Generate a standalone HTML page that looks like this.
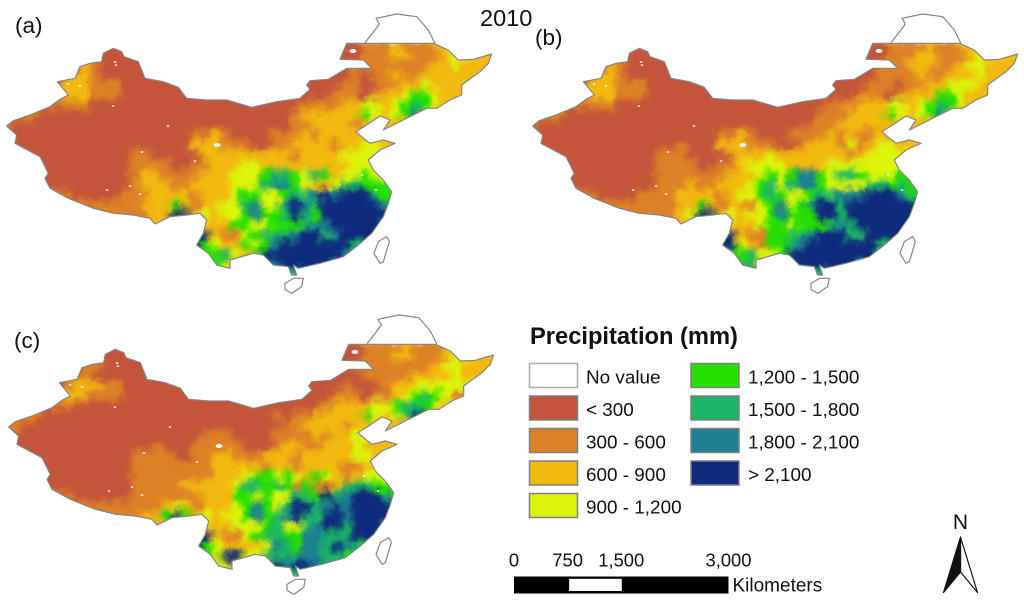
<!DOCTYPE html>
<html lang="en">
<head>
<meta charset="utf-8">
<title>Precipitation maps 2010</title>
<style>
html,body{margin:0;padding:0;background:#fff;}
svg{display:block;filter:blur(.35px);font-family:"Liberation Sans",sans-serif;}
</style>
</head>
<body>
<svg id="figure" xmlns="http://www.w3.org/2000/svg" width="1024" height="601" viewBox="0 0 1024 601">
<defs>
<filter id="soft" filterUnits="userSpaceOnUse" x="-20" y="0" width="560" height="320" color-interpolation-filters="sRGB">
<feGaussianBlur in="SourceGraphic" stdDeviation="3.2" result="blurred"/>
<feTurbulence type="fractalNoise" baseFrequency="0.09" numOctaves="3" seed="4" result="broad"/>
<feDisplacementMap in="blurred" in2="broad" scale="13" xChannelSelector="R" yChannelSelector="G" result="wobbled"/>
<feTurbulence type="fractalNoise" baseFrequency="0.55" numOctaves="1" seed="9" result="fine"/>
<feDisplacementMap in="wobbled" in2="fine" scale="4" xChannelSelector="G" yChannelSelector="R"/>
</filter>
<clipPath id="china-clip"><path transform="scale(.33333)" d="M20,378 40,362 90,345 150,320 180,298 205,285 172,245 225,235 240,200 270,190 305,185 310,160 340,145 365,155 372,170 415,185 435,235 490,245 535,262 560,295 620,300 680,300 755,322 830,305 900,295 930,268 920,255 930,242 985,238 1040,205 1115,205 1090,180 1020,178 1040,130 1300,130 1345,150 1375,180 1420,178 1475,162 1465,190 1440,215 1385,255 1385,285 1350,300 1310,325 1280,325 1240,345 1180,375 1150,390 1170,360 1140,348 1100,375 1068,395 1085,410 1110,430 1150,420 1185,430 1140,450 1105,480 1120,510 1150,540 1175,575 1165,610 1150,650 1115,700 1075,735 1030,770 960,790 895,805 880,795 890,825 875,825 865,800 820,795 790,765 760,760 690,780 690,805 650,795 625,760 590,735 610,700 620,660 600,640 560,645 510,650 465,672 450,655 400,645 340,640 280,625 205,595 150,565 135,535 145,520 120,470 45,430 50,405Z"/></clipPath>
<g id="outlines" fill="none" stroke="#858585" stroke-width="3.6" stroke-linejoin="round">
<path transform="scale(.33333)" d="M20,378 40,362 90,345 150,320 180,298 205,285 172,245 225,235 240,200 270,190 305,185 310,160 340,145 365,155 372,170 415,185 435,235 490,245 535,262 560,295 620,300 680,300 755,322 830,305 900,295 930,268 920,255 930,242 985,238 1040,205 1115,205 1090,180 1020,178 1040,130 1300,130 1345,150 1375,180 1420,178 1475,162 1465,190 1440,215 1385,255 1385,285 1350,300 1310,325 1280,325 1240,345 1180,375 1150,390 1170,360 1140,348 1100,375 1068,395 1085,410 1110,430 1150,420 1185,430 1140,450 1105,480 1120,510 1150,540 1175,575 1165,610 1150,650 1115,700 1075,735 1030,770 960,790 895,805 880,795 890,825 875,825 865,800 820,795 790,765 760,760 690,780 690,805 650,795 625,760 590,735 610,700 620,660 600,640 560,645 510,650 465,672 450,655 400,645 340,640 280,625 205,595 150,565 135,535 145,520 120,470 45,430 50,405Z"/>
<path transform="scale(.33333)" d="M1095,128 1125,90 1138,72 1128,55 1190,42 1250,50 1285,90 1305,130"/>
<path transform="scale(.33333)" d="M1160,710 1168,725 1150,785 1140,790 1122,760 1135,725Z"/>
<path transform="scale(.33333)" d="M880,835 910,835 905,860 875,880 855,868 855,850Z"/>
</g>
</defs>

<g id="panel-a" transform="translate(0,0)"></g>
<g id="panel-b" transform="translate(526,0)"></g>
<g id="panel-c" transform="translate(2,301)"></g>

<text x="480" y="26" font-size="23.5" fill="#111">2010</text>
<text x="15" y="33" font-size="22.5" fill="#111">(a)</text>
<text x="535" y="45" font-size="22.5" fill="#111">(b)</text>
<text x="14" y="348" font-size="22.5" fill="#111">(c)</text>

<text x="530" y="344" font-size="23.7" font-weight="bold" fill="#111">Precipitation (mm)</text>
<g id="legend"></g>

<g id="scale-bar"></g>
<text x="732.5" y="591.5" font-size="19" fill="#111">Kilometers</text>

<g>
<text x="960.5" y="529" font-size="21" text-anchor="middle" fill="#111">N</text>
<path d="M960.5,537 977.5,592.5 960.5,572Z" fill="#fff" stroke="#111" stroke-width="1.2" stroke-linejoin="round"/>
<path d="M960.5,537 943.5,592.5 960.5,572Z" fill="#111" stroke="#111" stroke-width="1.2" stroke-linejoin="round"/>
</g>
</svg>

<script>
// Precipitation class labels and colours, index 0 = no value
const classLabels = ["No value","< 300","300 - 600","600 - 900","900 - 1,200","1,200 - 1,500","1,500 - 1,800","1,800 - 2,100","> 2,100"];
const classColors = ["#ffffff","#c4553a","#dd8126","#f2b90f","#dcf50a","#25e000","#1bb565","#1c8090","#0e2a7c"];
// Scale bar distances (km)
const scaleTicks = [0,750,1500,3000];
// Gridded class codes per panel (one row per 10px band)
const gridA = [
"11111 11111 11111 11111 11111 11111 11111 12223 22233",
"11111 11111 11111 11111 11111 11111 11111 12223 32223 43",
"11111 11132 11111 11111 11111 11111 11111 22222 22233 43",
"11111 11332 11111 11111 11111 11111 11111 21223 22333 3",
"11111 13332 22111 11111 11111 11111 11112 21122 33433 3",
"11111 13332 22111 11111 11111 11111 11122 21233 45543 3",
"11111 22221 11111 11111 11111 11111 22223 34434 56543 3",
"12221 11111 11111 11111 11111 11112 33333 35434 57433 3",
"21111 11111 11111 11111 11111 11112 23333 23333 33333",
"11111 11111 11111 11112 23211 11222 32333 33333 33333",
"11111 11111 11111 11113 33222 11223 33323 34433 33333",
"11111 11111 11122 11111 33333 33332 33334 44444 33333",
"11111 11111 11122 22112 23334 43333 33333 44444 33333",
"11111 11111 11123 32222 33344 45665 46534 45444 33333",
"11111 11111 11123 33223 33344 46775 43346 65555 33333",
"11111 22111 11222 33332 33345 54456 67878 88655 33333",
"11111 22222 22223 33532 33446 74478 76888 88875 33333",
"11111 22222 22222 33883 43445 75568 65888 88885 33333",
"11111 22222 22222 33883 33355 44555 67788 88875 33333",
"11111 22222 22222 88888 83224 56667 88678 88866 33333",
"11111 22222 22222 88888 54335 45788 88888 66666 33333",
"11111 22222 22222 55555 55643 58888 88887 66666 33333",
"11111 22222 22222 55555 55433 36788 88877 66666 33333",
"11111 22222 22222 55555 55555 66666 66666 66666 33333"
];
const gridB = [
"11111 11111 11111 11111 11111 11111 11111 12222 32233",
"11111 11111 11111 11111 11111 11111 11111 12223 32223 43",
"11111 11132 11111 11111 11111 11111 11111 22233 32234 43",
"11111 11332 11111 11111 11111 11111 11111 22223 22333 43",
"11111 13332 22111 11111 11111 11111 11112 22122 33444 3",
"11111 13332 22111 11111 11111 11111 11122 21233 35543 3",
"11111 22221 11111 11111 11111 11111 22233 34434 56543 3",
"12221 11111 11111 11111 11111 11112 22333 35434 57433 3",
"21111 11111 11111 11111 11111 11122 23333 33333 33333",
"11111 11111 11111 11112 23211 12222 32322 33333 33333",
"11111 11111 11111 21113 33222 11233 32423 44333 33333",
"11111 11111 11122 21111 23334 33333 33234 44444 33333",
"11111 11111 11122 22112 23444 43333 44444 44445 33333",
"11111 11111 11122 22222 33345 45775 46654 44554 33333",
"11111 11111 11122 23223 33456 46775 44446 65655 33333",
"11111 22111 12222 33332 34456 54456 67778 88765 33333",
"11111 22222 22222 33532 33245 74578 86888 88885 33333",
"11111 22222 22222 34883 43445 75558 86888 88888 33333",
"11111 22222 22222 34883 33345 54555 67688 88887 33333",
"11111 22222 22222 88888 83225 56678 88668 88866 33333",
"11111 22222 22222 88888 84325 56788 88888 66666 33333",
"11111 22222 22222 55555 55644 58888 88888 66666 33333",
"11111 22222 22222 55555 66633 36888 88877 66666 33333",
"11111 22222 22222 55555 55555 66666 66666 66666 33333"
];
const gridC = [
"11111 11111 11111 11111 11111 11111 11111 12222 32223 3",
"11111 11111 11111 11111 11111 11111 11111 12223 32223 43",
"11111 11122 11111 11111 11111 11111 11111 22222 22234 433",
"11111 11221 11111 11111 11111 11111 11111 12222 23333 43",
"11111 12333 22111 11111 11111 11111 11112 11123 34444 4",
"11111 13322 22111 11111 11111 11111 11122 21223 45654 2",
"11111 22111 11111 11111 11111 11111 11233 33445 66543 3",
"12221 11111 11111 11111 11111 11212 23333 35434 68533 3",
"22111 11111 11111 11111 11111 11122 33332 33333 33333",
"11111 11111 11111 11111 22211 11222 23233 44333 33333",
"11111 11111 11111 21112 22221 11233 22333 43333 33333",
"11111 11111 11122 22112 23322 23332 33333 44333 33333",
"11111 11111 11122 22222 23333 32332 33332 23444 33333",
"11111 11111 11122 22222 23334 55454 35432 34444 33333",
"11111 11111 11122 22233 33346 65652 52236 66555 33333",
"11111 22111 11122 22222 33355 45446 65867 88875 33333",
"11111 22222 22222 23432 33345 75468 86787 88885 33333",
"11111 22222 22223 35853 43445 75678 66887 88888 33333",
"11111 22222 22222 35853 33344 45644 67886 88875 33333",
"11111 22222 22222 88888 83224 56655 77666 88866 33333",
"11111 22222 22222 88888 54333 34765 77687 65555 33333",
"11111 22222 22222 55555 54884 46667 77665 55555 33333",
"11111 22222 22222 55555 54433 33878 87666 66666 33333",
"11111 22222 22222 55555 55555 66666 66666 66666 33333"
];
// No-value pockets, in grid units [column, row]
const noDataSpots = [[21.7,10.5],[35.3,1.1],[11.5,2.2],[11.3,6.6],[6.8,4.4],[13,14.6],[14,15.4],[10.7,15],[8,4.6],[11.6,2.5],[19.5,12.1],[36.2,13.5],[37.6,15],[14.2,11.2],[16.8,8.6]];

const NS = "http://www.w3.org/2000/svg";
function xCell(col){ return col*10; }
function yCell(row){ return 40+row*10; }

function drawPanel(panelId, grid){
  const panel = document.getElementById(panelId);
  const clip = document.createElementNS(NS,"g");
  clip.setAttribute("clip-path","url(#china-clip)");
  
  
  const raster = document.createElementNS(NS,"g");
  raster.setAttribute("filter","url(#soft)");
  
  
  grid.forEach(function(rowText,r){
    const cells = rowText.replace(/ /g,"");
    for(let c=0;c<50;c++){
      const code = +cells[Math.min(c,cells.length-1)];
      const cell = document.createElementNS(NS,"rect");
      cell.setAttribute("x",xCell(c));
      cell.setAttribute("y",yCell(r));
      cell.setAttribute("width",10.3);
      cell.setAttribute("height",10.3);
      cell.setAttribute("fill",classColors[code]);
      
      
      raster.appendChild(cell);
    }
  });
  clip.appendChild(raster);
  noDataSpots.forEach(function(p,i){
    const spot = document.createElementNS(NS,"ellipse");
    spot.setAttribute("cx",xCell(p[0]));
    spot.setAttribute("cy",yCell(p[1]));
    spot.setAttribute("rx",i<2?3.4:1.4);
    spot.setAttribute("ry",i<2?2:0.8);
    spot.setAttribute("fill","#fff");
    
    
    clip.appendChild(spot);
  });
  panel.appendChild(clip);
  const outline = document.createElementNS(NS,"use");
  outline.setAttribute("href","#outlines");
  
  
  panel.appendChild(outline);
}
drawPanel("panel-a",gridA);
drawPanel("panel-b",gridB);
drawPanel("panel-c",gridC);

// Legend
const legend = document.getElementById("legend");
classLabels.forEach(function(label,i){
  const col = i<5?0:1;
  const row = i<5?i:i-5;
  const sx = col===0?529.5:691;
  const tx = col===0?586:748;
  const sy = 363.5+row*32.5;
  const swatch = document.createElementNS(NS,"rect");
  swatch.setAttribute("x",sx);
  swatch.setAttribute("y",sy);
  swatch.setAttribute("width",48);
  swatch.setAttribute("height",24);
  swatch.setAttribute("fill",classColors[i]);
  swatch.setAttribute("stroke",i===0?"#aaa":"#808080");
  swatch.setAttribute("stroke-width",1.5);
  
  
  legend.appendChild(swatch);
  const text = document.createElementNS(NS,"text");
  text.setAttribute("x",tx);
  text.setAttribute("y",383.5+row*32.5);
  text.setAttribute("font-size",18.9);
  text.setAttribute("fill","#111");
  text.textContent = label;
  
  
  legend.appendChild(text);
});

// Scale bar
const scaleBar = document.getElementById("scale-bar");
function xScale(km){ return 514+km/3000*214.5; }
const barBlack = document.createElementNS(NS,"rect");
barBlack.setAttribute("x",xScale(0));
barBlack.setAttribute("y",576.5);
barBlack.setAttribute("width",xScale(3000)-xScale(0));
barBlack.setAttribute("height",17);
barBlack.setAttribute("fill","#000");


scaleBar.appendChild(barBlack);
const barWhite = document.createElementNS(NS,"rect");
barWhite.setAttribute("x",xScale(750)+1.5);
barWhite.setAttribute("y",578.8);
barWhite.setAttribute("width",xScale(1500)-xScale(750)-1);
barWhite.setAttribute("height",12.2);
barWhite.setAttribute("fill","#fff");


scaleBar.appendChild(barWhite);
scaleTicks.forEach(function(km){
  const t = document.createElementNS(NS,"text");
  t.setAttribute("x",xScale(km));
  t.setAttribute("y",566.5);
  t.setAttribute("font-size",18.4);
  t.setAttribute("text-anchor","middle");
  t.setAttribute("fill","#111");
  t.textContent = km.toLocaleString("en-US");
  
  
  scaleBar.appendChild(t);
});
</script>
</body>
</html>
